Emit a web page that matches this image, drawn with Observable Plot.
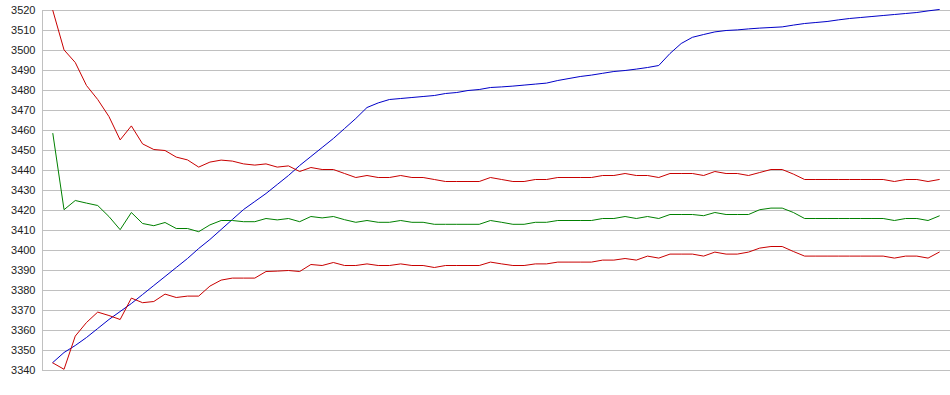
<!DOCTYPE html>
<html>
<head>
<meta charset="utf-8">
<script src="https://cdn.jsdelivr.net/npm/d3@7"></script>
<script src="https://cdn.jsdelivr.net/npm/@observablehq/plot@0.6"></script>
<style>
  html, body { margin: 0; padding: 0; background: #fff; }
  #chart svg { display: block; }
</style>
</head>
<body>
<div id="chart"></div>
<script>
const yTicks = [3340, 3350, 3360, 3370, 3380, 3390, 3400, 3410, 3420, 3430, 3440, 3450, 3460, 3470, 3480, 3490, 3500, 3510, 3520];

const blue = [3344, 3349, 3352.5, 3356.5, 3361, 3365.5, 3369.5, 3373.5, 3378, 3382.5,
  3387, 3391.5, 3396, 3401, 3405.5, 3410.5, 3415.5, 3420.5, 3424.5, 3428.5,
  3433, 3437.5, 3442.5, 3447, 3451.5, 3456, 3461, 3466, 3471.5, 3473.8,
  3475.5, 3476, 3476.5, 3477, 3477.5, 3478.5, 3479, 3480, 3480.5, 3481.5,
  3481.8, 3482.2, 3482.7, 3483.2, 3483.7, 3485, 3486, 3487, 3487.7, 3488.6,
  3489.5, 3490, 3490.7, 3491.5, 3492.5, 3498.5, 3503.5, 3506.6, 3508, 3509.3,
  3510, 3510.3, 3510.8, 3511.2, 3511.5, 3511.8, 3512.7, 3513.5, 3514, 3514.5,
  3515.3, 3516, 3516.5, 3517, 3517.5, 3518, 3518.5, 3519, 3519.8, 3520.5];

const upper = [3520, 3500.3, 3494, 3482.5, 3475.5, 3467, 3455.3, 3462.3, 3453.3, 3450.5,
  3450, 3446.7, 3445.3, 3441.7, 3444.2, 3445.2, 3444.7, 3443.3, 3442.7, 3443.3,
  3441.7, 3442.3, 3439.5, 3441.5, 3440.5, 3440.5, 3438.5, 3436.5, 3437.5, 3436.5,
  3436.5, 3437.5, 3436.5, 3436.5, 3435.5, 3434.5, 3434.5, 3434.5, 3434.5, 3436.5,
  3435.5, 3434.5, 3434.5, 3435.5, 3435.5, 3436.5, 3436.5, 3436.5, 3436.5, 3437.5,
  3437.5, 3438.5, 3437.5, 3437.5, 3436.5, 3438.5, 3438.5, 3438.5, 3437.5, 3439.5,
  3438.5, 3438.5, 3437.5, 3439, 3440.5, 3440.5, 3438.2, 3435.5, 3435.5, 3435.5,
  3435.5, 3435.5, 3435.5, 3435.5, 3435.5, 3434.5, 3435.5, 3435.5, 3434.5, 3435.5];

const middle = [3458.5, 3420.4, 3425, 3423.7, 3422.5, 3417, 3410.4, 3419, 3413.5, 3412.4,
  3414, 3411, 3411, 3409.4, 3412.8, 3415, 3415, 3414.4, 3414.4, 3416,
  3415.3, 3416, 3414.4, 3417, 3416.3, 3417, 3415.4, 3414.1, 3415, 3414.1,
  3414.1, 3415, 3414.1, 3414.1, 3413.1, 3413.1, 3413.1, 3413.1, 3413.1, 3415,
  3414.1, 3413.1, 3413.1, 3414.1, 3414.1, 3415, 3415, 3415, 3415, 3416,
  3416, 3417, 3416, 3417, 3416, 3418, 3418, 3418, 3417.4, 3419,
  3418, 3418, 3418, 3420.4, 3421.2, 3421.2, 3419, 3416, 3416, 3416,
  3416, 3416, 3416, 3416, 3416, 3415, 3416, 3416, 3415, 3417.3];

const lower = [3343.8, 3340.6, 3357.2, 3364, 3369.2, 3367.5, 3365.5, 3376.2, 3373.9, 3374.5,
  3378.2, 3376.5, 3377.2, 3377.2, 3382.2, 3385.2, 3386.2, 3386.2, 3386.2, 3389.5,
  3389.7, 3390, 3389.5, 3393, 3392.5, 3394, 3392.5, 3392.5, 3393.3, 3392.5,
  3392.5, 3393.3, 3392.5, 3392.5, 3391.5, 3392.5, 3392.5, 3392.5, 3392.5, 3394.2,
  3393.3, 3392.5, 3392.5, 3393.3, 3393.3, 3394.2, 3394.2, 3394.2, 3394.2, 3395.2,
  3395.2, 3396, 3395.2, 3397.2, 3396.2, 3398.2, 3398.2, 3398.2, 3397.2, 3399.2,
  3398.2, 3398.2, 3399.2, 3401.2, 3402, 3402, 3399.5, 3397.2, 3397.2, 3397.2,
  3397.2, 3397.2, 3397.2, 3397.2, 3397.2, 3396.2, 3397.2, 3397.2, 3396.2, 3399.2];

const idx = d3.range(blue.length);
const series = [
  {name: "blue", values: blue, color: "#0000c8"},
  {name: "upper", values: upper, color: "#c80000"},
  {name: "middle", values: middle, color: "#008000"},
  {name: "lower", values: lower, color: "#c80000"}
];

const chart = Plot.plot({
  width: 950,
  height: 395,
  marginLeft: 42,
  marginRight: 0,
  marginTop: 10,
  marginBottom: 25,
  style: {fontFamily: "'Liberation Sans', Arial, sans-serif", fontSize: "11px", color: "#222", background: "#fff"},
  x: {domain: [-0.92, 80], axis: null},
  y: {domain: [3340, 3520], ticks: yTicks},
  marks: [
    Plot.ruleY(yTicks, {stroke: "#c0c0c0", strokeWidth: 1}),
    Plot.ruleX([-0.92], {stroke: "#c0c0c0", strokeWidth: 1}),
    Plot.axisY({ticks: yTicks, tickSize: 0, tickPadding: 7, tickFormat: d => String(d), fontSize: 11, fill: "#222"}),
    ...series.map(s => Plot.line(idx, {
      x: i => i,
      y: i => s.values[i],
      stroke: s.color,
      strokeWidth: 1
    }))
  ]
});
document.getElementById("chart").appendChild(chart);
</script>
</body>
</html>
